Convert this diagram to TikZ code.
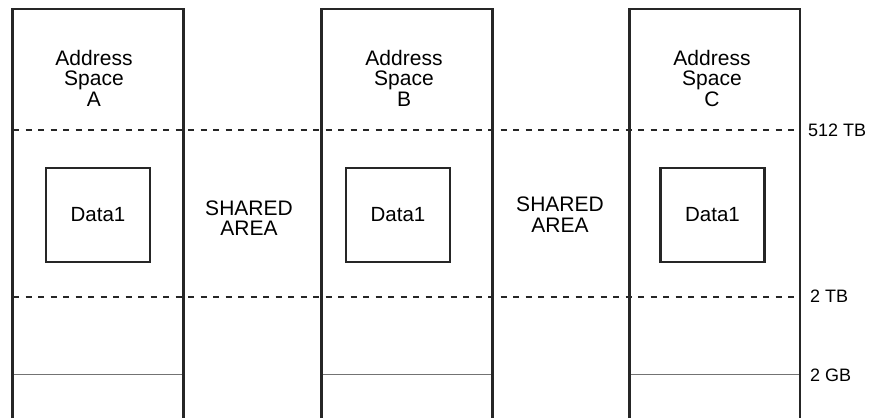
\documentclass[tikz,border=0pt]{standalone}
\usepackage{fontspec}
\setmainfont{Liberation Sans}
\usepackage{tikz}
\usetikzlibrary{positioning}

\begin{document}
\begin{tikzpicture}[x=1pt, y=-1pt,
    wall/.style={draw=black!85, line width=2.2pt},
    datbox/.style={draw=black!85, line width=2.2pt, minimum width=104pt, minimum height=94pt, inner sep=0pt, font=\fontsize{20.5}{21}\selectfont},
    limit/.style={black!85, line width=2.2pt, dash pattern=on 6pt off 6.5pt},
    low/.style={black!55, line width=1pt},
    txt/.style={align=center, inner sep=0pt, font=\fontsize{21}{20.5}\selectfont},
    size/.style={anchor=west, inner sep=0pt, font=\fontsize{18}{20}\selectfont}]
    \useasboundingbox (0,0) rectangle (872,418);

    % boundaries
    \coordinate (l512) at (13,130);
    \coordinate (r512) at (799,130);
    \coordinate (l2t) at (13,297);
    \coordinate (r2t) at (799,297);
    \draw[limit] (l512) -- (r512);
    \draw[limit] (l2t) -- (r2t);

    % below 2 GB
    \draw[low] (13,374) -- (184,374);
    \draw[low] (322,374) -- (493,374);
    \draw[low] (630,374) -- (800,374);

    % address spaces
    \draw[wall] (12.5,418) |- (183.5,9) -- (183.5,418);
    \draw[wall] (321.5,418) |- (492.5,9) -- (492.5,418);
    \draw[wall] (629.5,418) |- (800,9) -- (800,418);

    \node[txt] (spA) at (94,78) {Address\\Space\\A};
    \node[txt] (spB) at (404,78) {Address\\Space\\B};
    \node[txt] (spC) at (712,78) {Address\\Space\\C};

    \node[datbox] (dA) at (98,215) {Data1};
    \node[datbox] (dB) at (398,215) {Data1};
    \node[datbox] (dC) at (712.5,215) {Data1};

    \node[txt] (shAB) at (249,218) {SHARED\\AREA};
    \node[txt] (shBC) at (560,214.5) {SHARED\\AREA};

    \node[size] (s512) at (808,130) {512 TB};
    \node[size] (s2t) at (810,296) {2 TB};
    \node[size] (s2g) at (810,375) {2 GB};
\end{tikzpicture}
\end{document}
